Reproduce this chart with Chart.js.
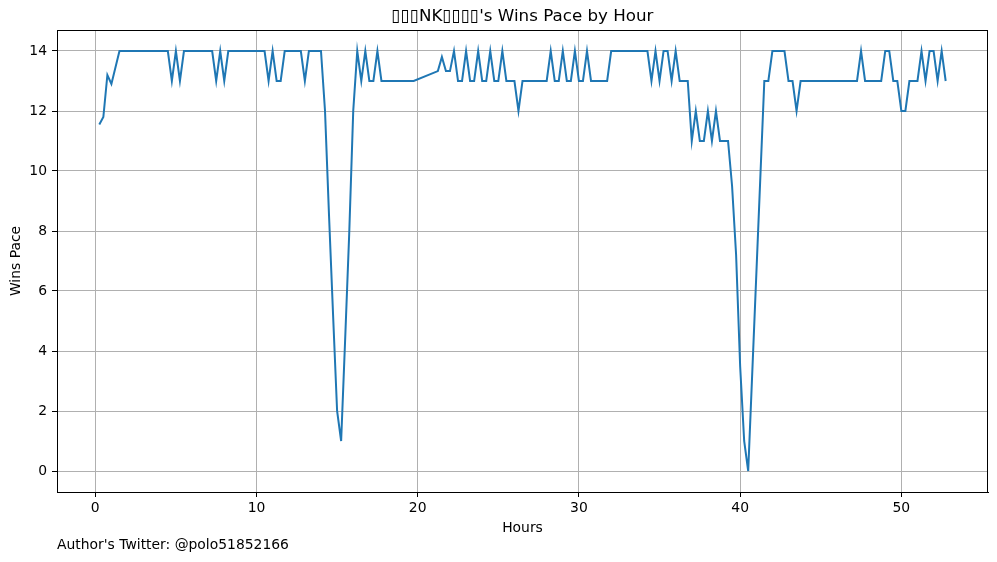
<!DOCTYPE html>
<html>
<head>
<meta charset="utf-8">
<script src="https://cdn.jsdelivr.net/npm/chart.js@4.4.1/dist/chart.umd.min.js"></script>
<style>
  html, body { margin: 0; padding: 0; background: #fff; }
  #wrap { width: 997px; height: 562px; }
</style>
</head>
<body>
<div id="wrap"><canvas id="chart" width="997" height="562"></canvas></div>
<script>
// 시간(시간 단위)과 승리 페이스 값
const hours = [
  0.25, 0.5, 0.75, 1.0, 1.5, 4.5, 4.75, 5.0, 5.25, 5.5,
  7.25, 7.5, 7.75, 8.0, 8.25, 10.5, 10.75, 11.0, 11.25, 11.5,
  11.75, 12.75, 13.0, 13.25, 14.0, 14.25, 14.5, 14.75, 15.0, 15.25,
  15.5, 15.75, 16.0, 16.25, 16.5, 16.75, 17.0, 17.25, 17.5, 17.75,
  19.75, 21.25, 21.5, 21.75, 22.0, 22.25, 22.5, 22.75, 23.0, 23.25,
  23.5, 23.75, 24.0, 24.25, 24.5, 24.75, 25.0, 25.25, 25.5, 26.0,
  26.25, 26.5, 28.0, 28.25, 28.5, 28.75, 29.0, 29.25, 29.5, 29.75,
  30.0, 30.25, 30.5, 30.75, 31.75, 32.0, 34.25, 34.5, 34.75, 35.0,
  35.25, 35.5, 35.75, 36.0, 36.25, 36.75, 37.0, 37.25, 37.5, 37.75,
  38.0, 38.25, 38.5, 38.75, 39.25, 39.5, 39.75, 40.0, 40.25, 40.5,
  41.5, 41.75, 42.0, 42.75, 43.0, 43.25, 43.5, 43.75, 47.25, 47.5,
  47.75, 48.75, 49.0, 49.25, 49.5, 49.75, 50.0, 50.25, 50.5, 51.0,
  51.25, 51.5, 51.75, 52.0, 52.25, 52.5, 52.75
];
const winsPace = [
  11.55, 11.8, 13.2, 12.9, 14, 14, 13, 14, 13, 14,
  14, 13, 14, 13, 14, 14, 13, 14, 13, 13,
  14, 14, 13, 14, 14, 12, 8.5, 5.2, 2, 1,
  4.4, 7.9, 12, 14, 13, 14, 13, 13, 14, 13,
  13, 13.33, 13.8, 13.33, 13.33, 14, 13, 13, 14, 13,
  13, 14, 13, 13, 14, 13, 13, 14, 13, 13,
  12, 13, 13, 14, 13, 13, 14, 13, 13, 14,
  13, 13, 14, 13, 13, 14, 14, 13, 14, 13,
  14, 14, 13, 14, 13, 13, 11, 12, 11, 11,
  12, 11, 12, 11, 11, 9.5, 7.2, 3.5, 1, 0,
  13, 13, 14, 14, 13, 13, 12, 13, 13, 14,
  13, 13, 14, 14, 13, 13, 12, 12, 13, 13,
  14, 13, 14, 14, 13, 14, 13
];
const xTicks = [0, 10, 20, 30, 40, 50];
const yTicks = [0, 2, 4, 6, 8, 10, 12, 14];

const titleText = "▯▯▯NK▯▯▯▯'s Wins Pace by Hour";
const xLabel = 'Hours';
const yLabel = 'Wins Pace';
const footText = "Author's Twitter: @polo51852166";

const FONT = '"DejaVu Sans", sans-serif';

// 제목, 축 이름, 테두리를 직접 그리는 플러그인
const decorations = {
  id: 'decorations',
  afterDraw(chart) {
    const { ctx, chartArea: a } = chart;
    ctx.save();
    ctx.strokeStyle = '#000';
    ctx.lineWidth = 1;
    ctx.strokeRect(Math.round(a.left) + 0.5, Math.round(a.top) + 0.5,
      Math.round(a.right - a.left) - 1, Math.round(a.bottom - a.top));

    ctx.fillStyle = '#000';
    ctx.font = '16.7px ' + FONT;
    ctx.textAlign = 'center';
    ctx.textBaseline = 'middle';
    ctx.fillText(titleText, (a.left + a.right) / 2, 17);

    ctx.font = '13.9px ' + FONT;
    ctx.fillText(xLabel, (a.left + a.right) / 2, 528);

    ctx.save();
    ctx.translate(16, (a.top + a.bottom) / 2);
    ctx.rotate(-Math.PI / 2);
    ctx.fillText(yLabel, 0, 0);
    ctx.restore();

    ctx.textAlign = 'left';
    ctx.fillText(footText, 57, 545);
    ctx.restore();
  }
};

document.addEventListener('DOMContentLoaded', () => {
  const points = hours.map((h, i) => ({ x: h, y: winsPace[i] }));

  new Chart(document.getElementById('chart').getContext('2d'), {
    type: 'line',
    data: {
      datasets: [{
        data: points,
        borderColor: '#1f77b4',
        borderWidth: 2,
        pointRadius: 0,
        tension: 0,
        fill: false
      }]
    },
    options: {
      responsive: false,
      animation: false,
      devicePixelRatio: 1,
      layout: { padding: { top: 30, right: 9, left: 0, bottom: 0 } },
      plugins: {
        legend: { display: false },
        tooltip: { enabled: false },
        title: { display: false }
      },
      scales: {
        x: {
          type: 'linear',
          min: -2.375,
          max: 55.375,
          afterBuildTicks: scale => { scale.ticks = xTicks.map(v => ({ value: v })); },
          afterFit: scale => { scale.height = 70; },
          grid: { color: '#b0b0b0', lineWidth: 1, tickLength: 5, tickColor: '#000' },
          border: { display: true, color: '#000', width: 1 },
          ticks: { color: '#000', font: { family: FONT, size: 13.9 }, padding: 3, maxRotation: 0 }
        },
        y: {
          min: -0.7,
          max: 14.7,
          afterBuildTicks: scale => { scale.ticks = yTicks.map(v => ({ value: v })); },
          afterFit: scale => { scale.width = 57; },
          grid: { color: '#b0b0b0', lineWidth: 1, tickLength: 5, tickColor: '#000' },
          border: { display: true, color: '#000', width: 1 },
          ticks: { color: '#000', font: { family: FONT, size: 13.9 }, padding: 5 }
        }
      }
    },
    plugins: [decorations]
  });
});
</script>
</body>
</html>
